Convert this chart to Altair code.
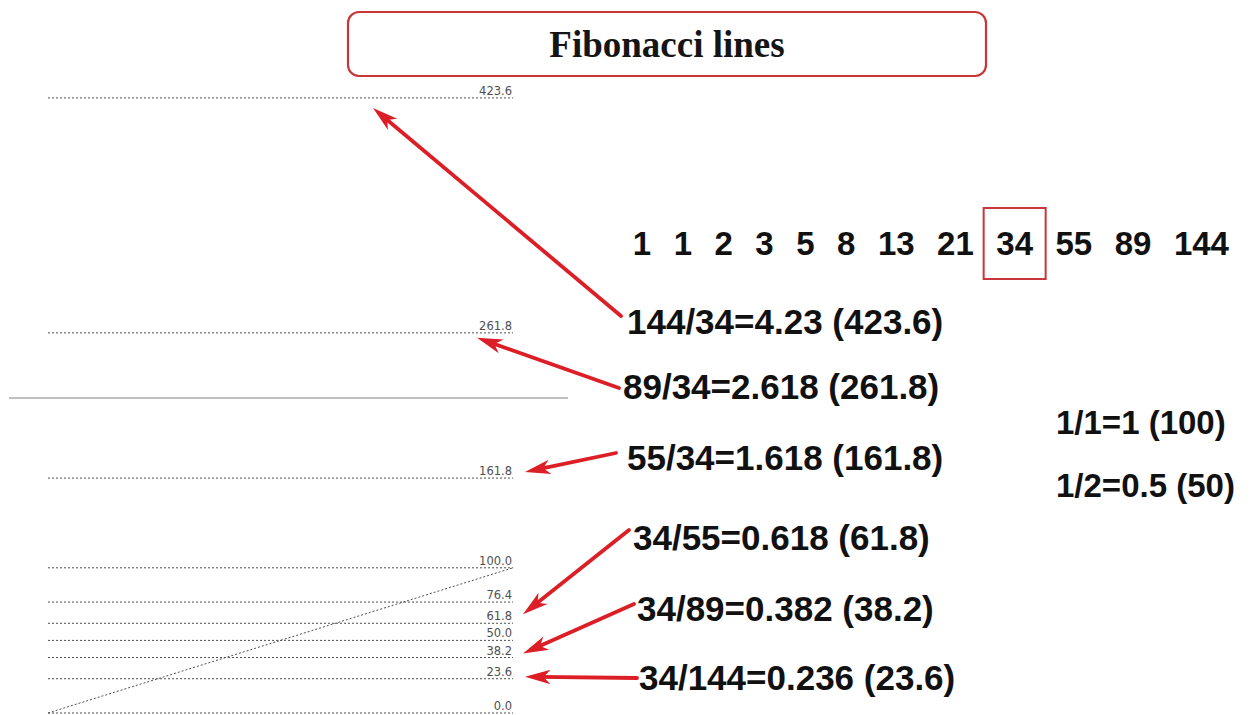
import math
import altair as alt
import pandas as pd

# ---------------- data ----------------
title_text = "Fibonacci lines"
levels = [0.0, 23.6, 38.2, 50.0, 61.8, 76.4, 100.0, 161.8, 261.8, 423.6]
level_labels = [f"{v:.1f}" for v in levels]
fib_seq = [1, 1, 2, 3, 5, 8, 13, 21, 34, 55, 89, 144]
base_number = 34
ratio_texts = [
    "144/34=4.23 (423.6)",
    "89/34=2.618 (261.8)",
    "55/34=1.618 (161.8)",
    "34/55=0.618 (61.8)",
    "34/89=0.382 (38.2)",
    "34/144=0.236 (23.6)",
]
ratio_levels = [423.6, 261.8, 161.8, 61.8, 38.2, 23.6]
unit_texts = ["1/1=1 (100)", "1/2=0.5 (50)"]

# ---------------- layout ----------------
W, H = 1235, 707
RED = "#dc1f26"
BOXRED = "#c9363a"
GREY = "#4f4f4f"
SANS = "Liberation Sans"


def px(x):
    return x - 8


def py(y):
    return y - 8


Y_ZERO = 705.0   # chart y of level 0
Y_PER = 1.452    # pixels per level unit
yscale = alt.Scale(domain=[(Y_ZERO - H) / Y_PER, Y_ZERO / Y_PER], zero=False, nice=False)


def yenc(field="level"):
    return alt.Y(f"{field}:Q", scale=yscale, axis=None)


layers = []

# title box
tdf = pd.DataFrame({"t": [title_text]})
layers.append(
    alt.Chart(tdf).mark_rect(cornerRadius=11, fill="white", stroke=BOXRED, strokeWidth=2.2).encode(
        x=alt.value(px(347)), x2=alt.value(px(985)), y=alt.value(py(12)), y2=alt.value(py(76))
    )
)
layers.append(
    alt.Chart(tdf).mark_text(font="Liberation Serif", fontWeight="bold", fontSize=37, color="#151515",
                             align="center", baseline="alphabetic").encode(
        x=alt.value(px(666)), y=alt.value(py(57)), text="t:N"
    )
)

# fibonacci level lines
ldf = pd.DataFrame({"level": levels, "label": level_labels})
layers.append(
    alt.Chart(ldf).mark_rule(color=GREY, strokeDash=[2, 2], strokeWidth=1).encode(
        x=alt.value(px(47)), x2=alt.value(px(512)), y=yenc()
    )
)
layers.append(
    alt.Chart(ldf).mark_text(align="right", baseline="alphabetic", dy=-3, font="DejaVu Sans",
                             fontSize=11.5, color=GREY).encode(
        x=alt.value(px(511)), y=yenc(), text="label:N"
    )
)
# diagonal 0 -> 100
ddf = pd.DataFrame({"lo": [levels[0]], "hi": [levels[6]]})
layers.append(
    alt.Chart(ddf).mark_rule(color=GREY, strokeDash=[2, 2], strokeWidth=1).encode(
        x=alt.value(px(47)), x2=alt.value(px(512)), y=yenc("lo"), y2="hi:Q"
    )
)
# solid separator line
layers.append(
    alt.Chart(tdf).mark_rule(color="#ababab", strokeWidth=1.5).encode(
        x=alt.value(0), x2=alt.value(px(567)), y=alt.value(py(398))
    )
)

# fibonacci sequence (flow layout)
SEQ_FS = 33
digit_w = 0.556 * SEQ_FS
gap = 22.5
centers = []
cur = 641 - digit_w / 2
for n in fib_seq:
    w = len(str(n)) * digit_w
    centers.append(cur + w / 2)
    cur += w + gap
sdf = pd.DataFrame({"n": [str(n) for n in fib_seq], "cx": [px(c) for c in centers]})
layers.append(
    alt.Chart(sdf).mark_text(font=SANS, fontWeight="bold", fontSize=SEQ_FS, color="#111",
                             align="center", baseline="alphabetic").encode(
        x=alt.X("cx:Q", scale=None), y=alt.value(py(255)), text="n:N"
    )
)
cb = centers[fib_seq.index(base_number)]
layers.append(
    alt.Chart(tdf).mark_rect(fill="transparent", stroke=BOXRED, strokeWidth=2).encode(
        x=alt.value(px(cb - 31)), x2=alt.value(px(cb + 31)), y=alt.value(py(208)), y2=alt.value(py(279))
    )
)

# ratio formulas
ratio_pos = [(626, 333.5), (622, 398.5), (626, 469.5), (632, 549.5), (636, 620.5), (638, 689.5)]
for txt, (x, y) in zip(ratio_texts, ratio_pos):
    layers.append(
        alt.Chart(pd.DataFrame({"t": [txt]})).mark_text(
            font=SANS, fontWeight="bold", fontSize=35, color="#111", align="left", baseline="alphabetic"
        ).encode(x=alt.value(px(x)), y=alt.value(py(y)), text="t:N")
    )
unit_pos = [(1055, 434), (1055, 497)]
for txt, (x, y) in zip(unit_texts, unit_pos):
    layers.append(
        alt.Chart(pd.DataFrame({"t": [txt]})).mark_text(
            font=SANS, fontWeight="bold", fontSize=33, color="#111", align="left", baseline="alphabetic"
        ).encode(x=alt.value(px(x)), y=alt.value(py(y)), text="t:N")
    )

# arrows: from each formula to its level
ARROW_PATH = "M0,0L0.62,2.2L0,1.6L-0.62,2.2Z"
arrow_geom = [  # tip x, tip offset from level line, tail x, tail y (page px)
    (372, 10, 620, 316),
    (476, 5, 618, 388),
    (524, -6, 615, 453),
    (522, -9, 628, 530),
    (522, -4, 633, 604),
    (524, -2, 636, 678),
]
for lv, (tipx, dy, tailx, taily) in zip(ratio_levels, arrow_geom):
    tx = px(tipx)
    ty = Y_ZERO - Y_PER * lv + dy
    sx, sy = px(tailx), py(taily)
    vx, vy = tx - sx, ty - sy
    L = math.hypot(vx, vy)
    ux, uy = vx / L, vy / L
    ang = math.degrees(math.atan2(vx, -vy)) % 360
    adf = pd.DataFrame({"level": [lv]})
    layers.append(
        alt.Chart(adf).mark_rule(color=RED, strokeWidth=3.8, strokeCap="round",
                                 yOffset=dy - 14 * uy).encode(
            x=alt.value(tx - 14 * ux), y=yenc(), x2=alt.value(sx), y2=alt.value(sy)
        )
    )
    layers.append(
        alt.Chart(adf).mark_point(shape=ARROW_PATH, filled=True, size=540, angle=round(ang, 2),
                                  color=RED, opacity=1, strokeWidth=0, yOffset=dy).encode(
            x=alt.value(tx), y=yenc()
        )
    )

chart = alt.layer(*layers).properties(
    width=W, height=H,
    autosize=alt.AutoSizeParams(type="fit", contains="padding"),
    padding=0,
    background="white",
).configure_view(stroke="transparent")

chart.save("out.html", embed_options={"renderer": "svg", "actions": False})
